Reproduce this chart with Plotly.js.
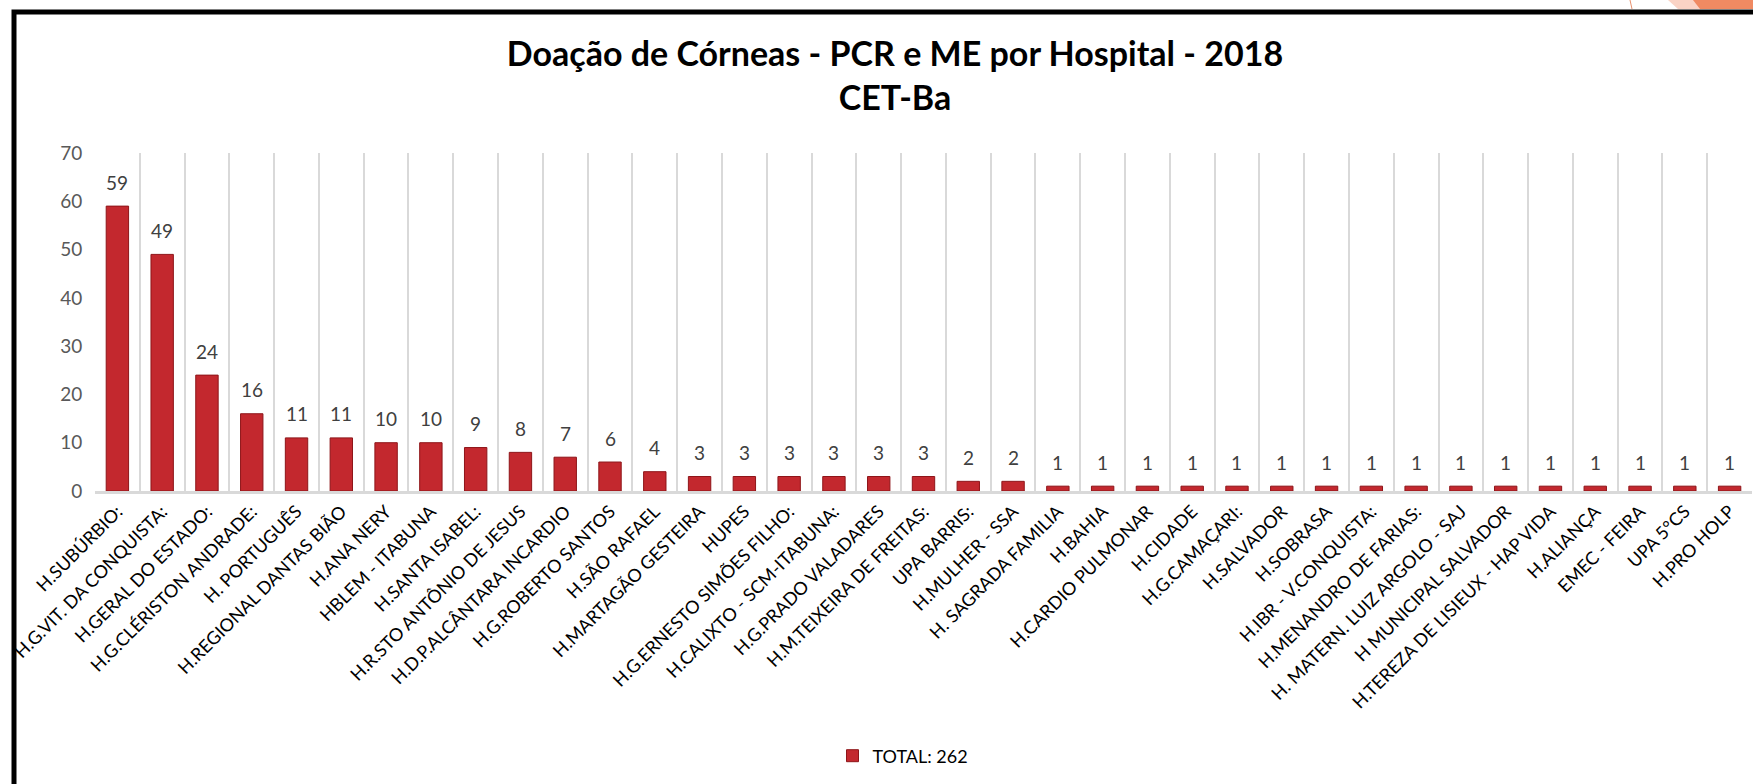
<!DOCTYPE html>
<html>
<head>
<meta charset="utf-8">
<script src="https://cdn.plot.ly/plotly-3.0.1.min.js"></script>
<style>
  html, body { margin: 0; padding: 0; background: #ffffff; }
  #grafica { width: 1753px; height: 784px; }
</style>
</head>
<body>
<div id="grafica"></div>
<script>
var hospitais = [
    "H.SUBÚRBIO:", "H.G.VIT. DA CONQUISTA:", "H.GERAL DO ESTADO:", "H.G.CLÉRISTON ANDRADE:",
    "H. PORTUGUÊS", "H.REGIONAL DANTAS BIÃO", "H.ANA NERY", "HBLEM - ITABUNA",
    "H.SANTA ISABEL:", "H.R.STO ANTÔNIO DE JESUS", "H.D.P.ALCÂNTARA INCARDIO", "H.G.ROBERTO SANTOS",
    "H.SÃO RAFAEL", "H.MARTAGÃO GESTEIRA", "HUPES", "H.G.ERNESTO SIMÕES FILHO:",
    "H.CALIXTO - SCM-ITABUNA:", "H.G.PRADO VALADARES", "H.M.TEIXEIRA DE FREITAS:", "UPA BARRIS:",
    "H.MULHER - SSA", "H. SAGRADA FAMILIA", "H.BAHIA", "H.CARDIO PULMONAR",
    "H.CIDADE", "H.G.CAMAÇARI:", "H.SALVADOR", "H.SOBRASA",
    "H.IBR - V.CONQUISTA:", "H.MENANDRO DE FARIAS:", "H. MATERN. LUIZ ARGOLO - SAJ", "H MUNICIPAL SALVADOR",
    "H.TEREZA DE LISIEUX - HAP VIDA", "H.ALIANÇA", "EMEC - FEIRA", "UPA 5°CS",
    "H.PRO HOLP"
];

var doacoes = [
    59, 49, 24, 16,
    11, 11, 10, 10,
    9, 8, 7, 6,
    4, 3, 3, 3,
    3, 3, 3, 2,
    2, 1, 1, 1,
    1, 1, 1, 1,
    1, 1, 1, 1,
    1, 1, 1, 1,
    1
];

var nomeSerie = "TOTAL: 262";
var ticksY = [0, 10, 20, 30, 40, 50, 60, 70];

// area do grafico em pixels, para posicionar a moldura
var plotL = 95, plotR = 1752, plotT = 153, plotB = 491;
function px(x) { return (x - plotL) / (plotR - plotL); }
function py(y) { return (plotB - y) / (plotB - plotT); }

var fonte = 'Lato, "Open Sans", sans-serif';

var data = [
    {
        type: 'bar',
        x: hospitais,
        y: doacoes,
        name: nomeSerie,
        marker: {color: '#C3282E', line: {color: '#8E1519', width: 1}},
        hoverinfo: 'x+y',
        showlegend: true
    }
];

// rotulos de valor acima das barras
var rotulos = [];
for (var i = 0; i < hospitais.length; i++) {
    rotulos.push({
        x: hospitais[i],
        y: doacoes[i],
        text: String(doacoes[i]),
        showarrow: false,
        yanchor: 'middle',
        yshift: 24,
        font: {family: fonte, size: 19, color: '#404040'}
    });
}

var layout = {
    width: 1753,
    height: 784,
    paper_bgcolor: '#ffffff',
    plot_bgcolor: '#ffffff',
    margin: {l: plotL, r: 1753 - plotR, t: plotT, b: 784 - plotB, pad: 0},
    title: {
        text: '<b>Doação de Córneas - PCR e ME por Hospital - 2018<br>CET-Ba</b>',
        x: px(895), xref: 'paper', xanchor: 'center',
        y: 1 - 66 / 784, yanchor: 'middle',
        font: {family: fonte, size: 34, color: '#000000'}
    },
    bargap: 0.5,
    xaxis: {
        type: 'category',
        tickangle: -45,
        tickson: 'boundaries',
        showgrid: true,
        gridcolor: '#D9D9D9',
        gridwidth: 1.5,
        showline: true,
        linecolor: '#D9D9D9',
        linewidth: 3,
        ticks: '',
        automargin: false,
        tickfont: {family: fonte, size: 18, color: '#000000'}
    },
    yaxis: {
        range: [0, 70],
        tickvals: ticksY,
        showgrid: false,
        zeroline: false,
        showline: false,
        ticks: 'outside',
        ticklen: 8,
        tickcolor: 'rgba(0,0,0,0)',
        automargin: false,
        tickfont: {family: fonte, size: 19, color: '#595959'}
    },
    legend: {
        orientation: 'h',
        x: px(903), xanchor: 'center',
        y: py(756), yanchor: 'middle',
        font: {family: fonte, size: 18, color: '#000000'},
        itemwidth: 20
    },
    annotations: rotulos,
    shapes: [
        // moldura preta do slide
        {type: 'rect', xref: 'paper', yref: 'paper', layer: 'above',
         x0: px(14), x1: px(1800), y0: py(830), y1: py(12),
         line: {color: '#000000', width: 5}},
        // detalhe laranja no canto
        {type: 'path', xref: 'paper', yref: 'paper',
         path: 'M ' + px(1668) + ' ' + py(0) + ' L ' + px(1753) + ' ' + py(0) + ' L ' + px(1753) + ' ' + py(9) + ' L ' + px(1678) + ' ' + py(9) + ' Z',
         fillcolor: '#FAD3C5', line: {width: 0}},
        {type: 'path', xref: 'paper', yref: 'paper',
         path: 'M ' + px(1693) + ' ' + py(0) + ' L ' + px(1753) + ' ' + py(0) + ' L ' + px(1753) + ' ' + py(9) + ' L ' + px(1700) + ' ' + py(9) + ' Z',
         fillcolor: '#F08A62', line: {width: 0}},
        {type: 'line', xref: 'paper', yref: 'paper',
         x0: px(1630), y0: py(0), x1: px(1632), y1: py(9),
         line: {color: '#E8906E', width: 1}}
    ]
};

Plotly.newPlot('grafica', data, layout, {displayModeBar: false});
</script>
</body>
</html>
